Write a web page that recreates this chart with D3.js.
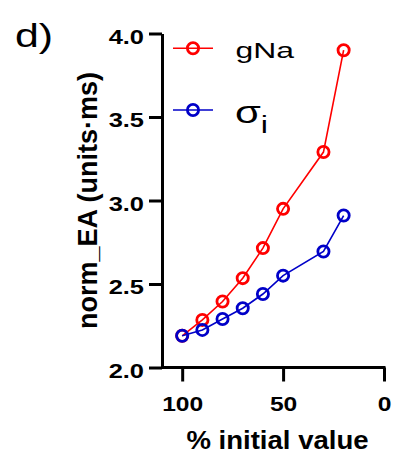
<!DOCTYPE html>
<html>
<head>
<meta charset="utf-8">
<script src="https://cdn.jsdelivr.net/npm/d3@7"></script>
<style>
    body { margin: 0; background: #fff; }
    svg { display: block; font-family: "Liberation Sans", Arial, sans-serif; }
</style>
</head>
<body>
<div class="chart-container"></div>
<script>
// Data.
const percentValues = [100, 90, 80, 70, 60, 50, 30, 20];
const gNaValues = [2.19, 2.285, 2.395, 2.535, 2.715, 2.95, 3.29, 3.90];
const sigmaValues = [2.19, 2.225, 2.29, 2.355, 2.44, 2.55, 2.695, 2.91];
const xTicks = [100, 50, 0];
const yTicks = [2.0, 2.5, 3.0, 3.5, 4.0];
const seriesColors = ['#ff0000', '#0000c8'];

const svg = d3
    .select('.chart-container')
    .append('svg')
    .attr('width', 397)
    .attr('height', 459);

ready();

function ready() {
    const area = baseDimension();

    const xScale = d3
        .scaleLinear()
        .domain([110, 0])
        .range([area.left, area.right]);

    const yScale = d3
        .scaleLinear()
        .domain([2, 4])
        .range([area.bottom, area.top]);

    const series = [
        {name: 'gNa', values: gNaValues, color: seriesColors[0]},
        {name: 'sigma', values: sigmaValues, color: seriesColors[1]}
    ];

    drawAxis(xScale, yScale, area);
    drawLabels(area);
    series.forEach(s => drawSeries(s, xScale, yScale));
    drawLegend(series);
}

function baseDimension() {
    return {left: 162, right: 384, top: 33.5, bottom: 367.5};
}

// stretch text horizontally to match the wide lettering of the figure
function stretch(selection, k) {
    selection.each(function() {
        const len = this.getComputedTextLength();
        d3.select(this)
            .attr('textLength', len * k)
            .attr('lengthAdjust', 'spacingAndGlyphs');
    });
}

function drawAxis(xScale, yScale, area) {
    const axisX = d3.axisBottom(xScale)
        .tickValues(xTicks)
        .tickFormat(d3.format('d'))
        .tickSizeInner(14)
        .tickSizeOuter(0);

    const axisY = d3.axisLeft(yScale)
        .tickValues(yTicks)
        .tickFormat(d3.format('.1f'))
        .tickSizeInner(13)
        .tickSizeOuter(0)
        .tickPadding(5);

    const gx = svg
        .append('g')
        .attr('transform', `translate(0, ${area.bottom})`)
        .call(axisX);

    const gy = svg
        .append('g')
        .attr('transform', `translate(${area.left}, 0)`)
        .call(axisY);

    [gx, gy].forEach(g => {
        g.select('.domain').attr('stroke', '#000').attr('stroke-width', 3);
        g.selectAll('.tick line').attr('stroke', '#000').attr('stroke-width', 3);
        g.selectAll('.tick text')
            .attr('fill', '#000')
            .style('font-size', '20.5px')
            .style('font-weight', 'bold')
            .style('font-family', '"Liberation Sans", Arial, sans-serif');
    });

    gx.selectAll('.tick text').attr('y', 43).attr('dy', 0);
    gy.selectAll('.tick text').attr('dy', 9.8);

    stretch(gx.selectAll('.tick text'), 1.2);
    stretch(gy.selectAll('.tick text'), 1.24);

    // the x axis line starts at the y axis
    gx.select('.domain').attr('d', `M${area.left},0H${area.right + 1.5}`);
}

function drawLabels(area) {
    svg.append('text')
        .attr('x', 277.5)
        .attr('y', 449)
        .attr('text-anchor', 'middle')
        .style('font-size', '25.5px')
        .style('font-weight', 'bold')
        .text('% initial value')
        .call(stretch, 1.08);

    svg.append('text')
        .attr('transform', 'translate(97, 200.5) rotate(-90)')
        .attr('text-anchor', 'middle')
        .style('font-size', '27px')
        .style('font-weight', 'bold')
        .text('norm_EA (units·ms)');

    svg.append('text')
        .attr('transform', 'translate(15, 47.3) scale(1.3, 1)')
        .style('font-size', '33px')
        .text('d)');
}

function drawSeries(s, xScale, yScale) {
    const points = percentValues.map((x, i) => ({x: x, y: s.values[i]}));

    const line = d3.line()
        .x(d => xScale(d.x))
        .y(d => yScale(d.y));

    const g = svg.append('g').attr('class', 'series');

    g.append('path')
        .datum(points)
        .attr('d', line)
        .attr('fill', 'none')
        .attr('stroke', s.color)
        .attr('stroke-width', 1.6);

    g.selectAll('.dot')
        .data(points)
        .enter()
        .append('circle')
        .attr('class', 'dot')
        .attr('cx', d => xScale(d.x))
        .attr('cy', d => yScale(d.y))
        .attr('r', 5.6)
        .attr('fill', 'none')
        .attr('stroke', s.color)
        .attr('stroke-width', 2.8);
}

function drawLegend(series) {
    const rows = [48.3, 110];

    series.forEach((s, i) => {
        const g = svg.append('g')
            .attr('transform', `translate(0, ${rows[i]})`);

        g.append('line')
            .attr('x1', 173)
            .attr('x2', 213)
            .attr('stroke', s.color)
            .attr('stroke-width', 1.6);

        g.append('circle')
            .attr('cx', 193)
            .attr('r', 5.6)
            .attr('fill', 'none')
            .attr('stroke', s.color)
            .attr('stroke-width', 2.8);
    });

    svg.append('text')
        .attr('transform', 'translate(235.5, 58.3) scale(1.45, 1)')
        .style('font-size', '22px')
        .text('gNa');

    const sigma = svg.append('text')
        .attr('transform', 'translate(235, 123) scale(1.35, 1)');
    sigma.append('tspan')
        .style('font-size', '31px')
        .text('σ');
    sigma.append('tspan')
        .attr('dy', 9.7)
        .style('font-size', '24px')
        .text('i');
}
</script>
</body>
</html>
